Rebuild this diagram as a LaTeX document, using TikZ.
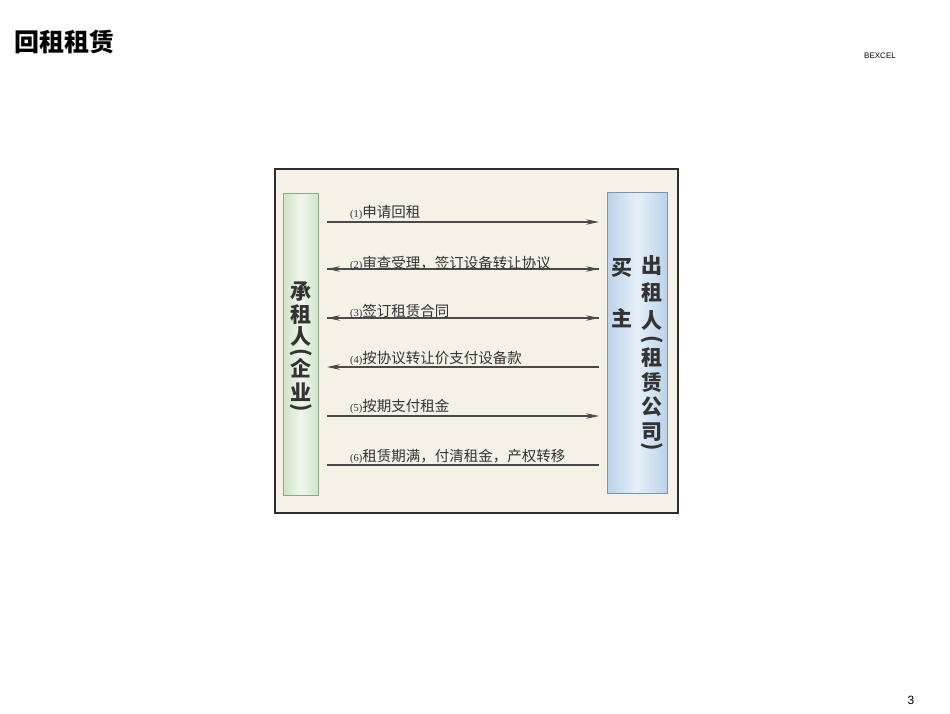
\documentclass[tikz,border=0pt]{standalone}
\usepackage{fontspec}
\setmainfont{Liberation Sans}
\newfontfamily\cjk{Noto Sans CJK SC}
\newfontfamily\numfont{Liberation Serif}
\usetikzlibrary{arrows.meta}
\definecolor{framebg}{HTML}{F6F1E6}
\definecolor{frameline}{HTML}{2E2E2E}
\definecolor{lnc}{HTML}{4A4A4A}
\definecolor{txc}{HTML}{333333}
\definecolor{gboxl}{HTML}{CFE3C9}
\definecolor{gboxm}{HTML}{EFF6EC}
\definecolor{gboxline}{HTML}{8FA689}
\definecolor{bboxl}{HTML}{BBD2EA}
\definecolor{bboxm}{HTML}{E6EFF8}
\definecolor{bboxline}{HTML}{7D93AE}
\tikzset{
  vchar/.style={inner sep=0pt, font=\cjk\bfseries\fontsize{21}{21}\selectfont, text=txc},
  vparen/.style={inner sep=0pt, rotate=-90, font=\cjk\bfseries\fontsize{21}{21}\selectfont, text=txc},
  msglbl/.style={anchor=south west, inner sep=0pt, font=\cjk\fontsize{14.5}{15}\selectfont, text=txc},
  msgline/.style={draw=lnc, line width=1.1pt},
  tip/.style={-{Stealth[length=13pt,width=5.5pt]}},
}
\newcommand{\nm}[1]{{\numfont\fontsize{10.5}{10}\selectfont(#1)}}
\begin{document}
\begin{tikzpicture}[x=1pt,y=-1pt]
\useasboundingbox (0,0) rectangle (950,713);
\fill[white] (0,0) rectangle (950,713);
% title, header, page number
\node[anchor=west, inner sep=0pt, font=\cjk\bfseries\fontsize{25}{25}\selectfont] (title) at (14,42) {回租租赁};
\node[inner sep=0pt, font=\fontsize{8}{8}\selectfont] (brand) at (880,56) {BEXCEL};
\node[inner sep=0pt, font=\fontsize{12}{12}\selectfont] (pg) at (911,700) {3};
% frame
\node[draw=frameline, line width=1.4pt, fill=framebg, minimum width=403pt, minimum height=344pt, inner sep=0pt] (frame) at (476.5,341) {};
% left box
\node[draw=gboxline, line width=1pt, left color=gboxl, right color=gboxl, middle color=gboxm, minimum width=35pt, minimum height=302pt, inner sep=0pt] (lbox) at (301,344) {};
% right box
\node[draw=bboxline, line width=1pt, left color=bboxl, right color=bboxl, middle color=bboxm, minimum width=60pt, minimum height=301pt, inner sep=0pt] (rbox) at (637,342.5) {};
% left column text
\foreach \c/\y [count=\i] in {承/292, 租/315, 人/337, 企/368, 业/392}
  \node[vchar] (L\i) at (301,\y) {\c};
\node[vparen] (Lp1) at (301,353) {(};
\node[vparen] (Lp2) at (301,408) {)};
% right column text
\foreach \c/\y [count=\i] in {出/266, 租/293, 人/321, 租/358, 赁/383, 公/407, 司/432}
  \node[vchar] (R\i) at (652,\y) {\c};
\node[vparen] (Rp1) at (652,340) {(};
\node[vparen] (Rp2) at (652,447) {)};
\node[vchar] (B1) at (622,268) {买};
\node[vchar] (B2) at (622,318) {主};
% message line end points
\foreach \i/\y in {1/222, 2/269, 3/318, 4/367, 5/416, 6/465} {
  \coordinate (a\i) at (327,\y);
  \coordinate (b\i) at (599,\y);
}
\draw[msgline, tip] (a1) -- (b1);
\draw[msgline, tip] (a2) -- (b2);
\draw[msgline, tip] (b2) -- (a2);
\draw[msgline, tip] (a3) -- (b3);
\draw[msgline, tip] (b3) -- (a3);
\draw[msgline, tip] (b4) -- (a4);
\draw[msgline, tip] (a5) -- (b5);
\draw[msgline] (a6) -- (b6);
% labels
\node[msglbl] (t1) at (350,220) {\nm{1}申请回租};
\node[msglbl] (t2) at (350,271) {\nm{2}审查受理，签订设备转让协议};
\node[msglbl] (t3) at (350,319) {\nm{3}签订租赁合同};
\node[msglbl] (t4) at (350,366) {\nm{4}按协议转让价支付设备款};
\node[msglbl] (t5) at (350,414) {\nm{5}按期支付租金};
\node[msglbl] (t6) at (350,464) {\nm{6}租赁期满，付清租金，产权转移};
\end{tikzpicture}
\end{document}
